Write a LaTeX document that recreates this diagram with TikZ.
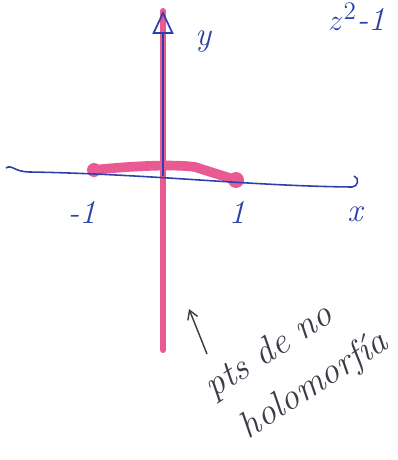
\documentclass[tikz,border=0pt]{standalone}
\usetikzlibrary{arrows.meta}
\definecolor{ink}{RGB}{45,65,170}
\definecolor{hl}{RGB}{232,90,145}
\definecolor{pen}{RGB}{60,60,70}
\begin{document}
\begin{tikzpicture}[x=0.02cm,y=-0.02cm,
  axis/.style={draw=ink,line width=0.9pt},
  hili/.style={draw=hl,line cap=round},
  lbl/.style={text=ink,font=\itshape\fontsize{19}{21}\selectfont,inner sep=0pt},
  note/.style={text=pen,font=\itshape\fontsize{21}{30}\selectfont,inner sep=0pt,align=center}]
\useasboundingbox (0,0) rectangle (398,460);
% coordinates
\coordinate (xl) at (6,168);
\coordinate (xr) at (352,187);
\coordinate (o) at (163,176);
\coordinate (ytop) at (163,11);
\coordinate (pbot) at (163,350);
\coordinate (m1) at (94,170);
\coordinate (p1) at (236,180);
% pink highlights
\draw[hili,line width=3.4pt] (ytop) -- (pbot);
\draw[hili,line width=5.5pt] (m1) .. controls (130,166) and (175,164) .. (195,167) -- (p1);
\fill[hl] (m1) circle (7);
\fill[hl] (p1) circle (8);
% axes
\draw[axis] (xl) .. controls (12,164) and (14,172) .. (30,172) .. controls (150,174) and (250,186) .. (xr)
  .. controls (358,187) and (360,178) .. (354,176);
\draw[axis,-{Triangle[open,length=13pt,width=12pt,line width=1pt]}] (o) -- (ytop);
% labels
\node[lbl] (ylab) at (203,42) {y};
\node[lbl] (xlab) at (355,214) {x};
\node[lbl] (lm1) at (82,212) {-1};
\node[lbl] (l1) at (237,212) {1};
\node[lbl,anchor=west] (fz) at (328,17) {$z^2$-1};
% note
\node[note,rotate=33] (n) at (284,374) {pts de no\\\hspace*{22pt}holomorfía};
\coordinate (atip) at (189,309);
\coordinate (atail) at (207,354);
\draw[pen,line width=0.8pt,-{Straight Barb[length=5pt,width=6pt]}] (atail) -- (atip);
\end{tikzpicture}
\end{document}
